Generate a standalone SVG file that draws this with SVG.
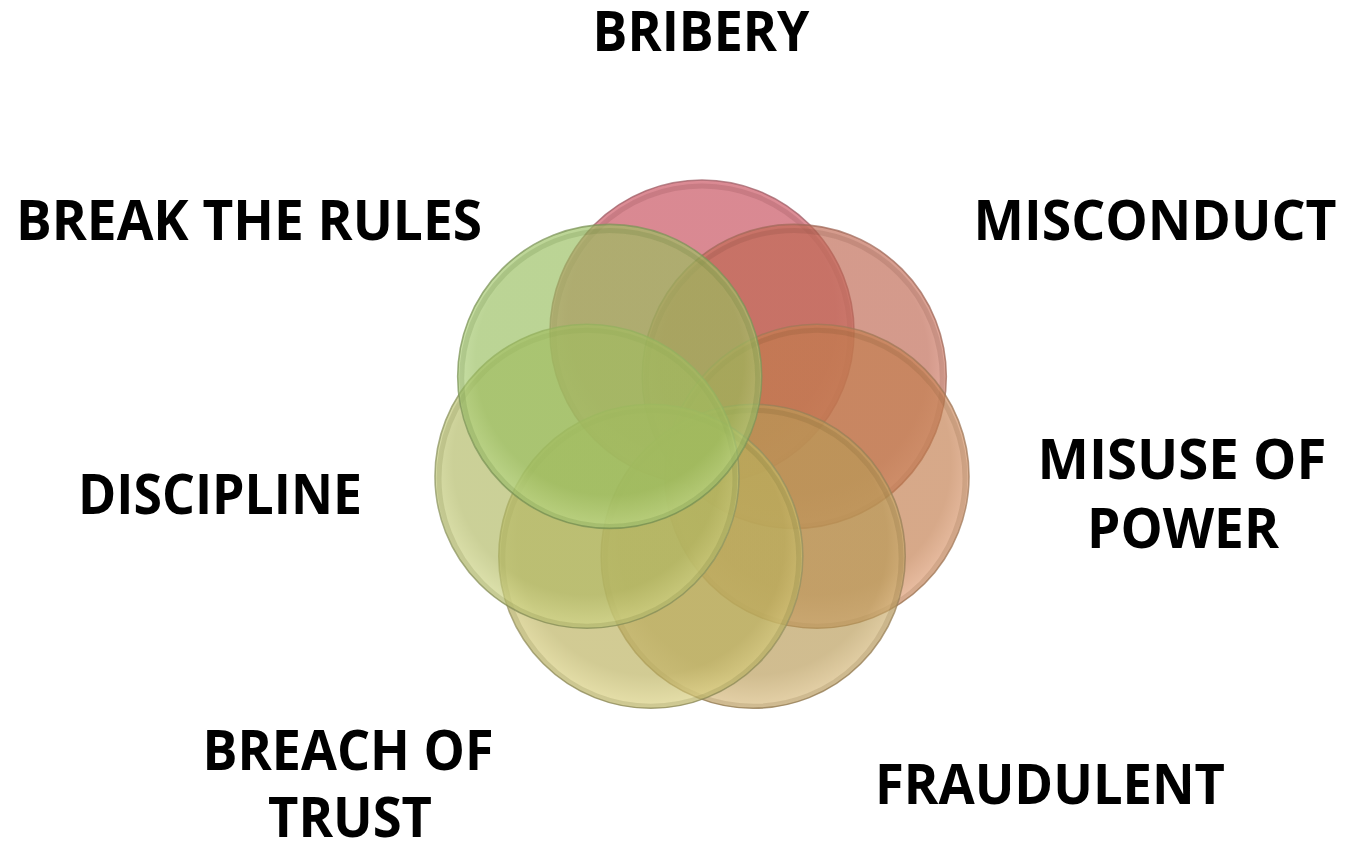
<svg xmlns="http://www.w3.org/2000/svg" width="1345" height="842" viewBox="0 0 1345 842">
<style>
.lbl{font-family:"Open Sans","Liberation Sans",sans-serif;font-weight:700;font-size:56px;fill:#000;text-anchor:middle}
.ring{fill-opacity:0.66;stroke-width:1.6;stroke-opacity:0.75}
.rim{fill:none;stroke-width:5;stroke-opacity:0.16}
</style>
<defs>
<radialGradient id="g1" cx="50%" cy="45%" r="55%"><stop offset="0" stop-color="#C64C5A"/><stop offset="0.8" stop-color="#C64C5A"/><stop offset="1" stop-color="#E87C84"/></radialGradient>
<radialGradient id="g2" cx="50%" cy="45%" r="55%"><stop offset="0" stop-color="#BE6650"/><stop offset="0.8" stop-color="#BE6650"/><stop offset="1" stop-color="#DE8C78"/></radialGradient>
<radialGradient id="g3" cx="50%" cy="45%" r="55%"><stop offset="0" stop-color="#C27C4C"/><stop offset="0.8" stop-color="#C27C4C"/><stop offset="1" stop-color="#E2A078"/></radialGradient>
<radialGradient id="g4" cx="50%" cy="45%" r="55%"><stop offset="0" stop-color="#B89A56"/><stop offset="0.8" stop-color="#B89A56"/><stop offset="1" stop-color="#D8BA7C"/></radialGradient>
<radialGradient id="g5" cx="50%" cy="45%" r="55%"><stop offset="0" stop-color="#BAB05C"/><stop offset="0.8" stop-color="#BAB05C"/><stop offset="1" stop-color="#DAD07E"/></radialGradient>
<radialGradient id="g6" cx="50%" cy="45%" r="55%"><stop offset="0" stop-color="#B0B862"/><stop offset="0.8" stop-color="#B0B862"/><stop offset="1" stop-color="#D0D686"/></radialGradient>
<radialGradient id="g7" cx="50%" cy="45%" r="55%"><stop offset="0" stop-color="#98BE5E"/><stop offset="0.8" stop-color="#98BE5E"/><stop offset="1" stop-color="#BADA88"/></radialGradient>
</defs>
<g id="node-bribery">
<circle class="ring" cx="702" cy="332" r="152" fill="url(#g1)" stroke="#A06068"/>
<circle class="rim" cx="702" cy="334" r="148" stroke="#703038"/>
<text class="lbl" x="701" y="51" textLength="217" lengthAdjust="spacingAndGlyphs">BRIBERY</text>
</g>
<g id="node-misconduct">
<circle class="ring" cx="794.3" cy="376.4" r="152" fill="url(#g2)" stroke="#A06858"/>
<circle class="rim" cx="794.3" cy="378.4" r="148" stroke="#704030"/>
<text class="lbl" x="1155" y="240" textLength="363" lengthAdjust="spacingAndGlyphs">MISCONDUCT</text>
</g>
<g id="node-misuse-of-power">
<circle class="ring" cx="817" cy="476.3" r="152" fill="url(#g3)" stroke="#A07858"/>
<circle class="rim" cx="817" cy="478.3" r="148" stroke="#704828"/>
<text class="lbl" x="1182" y="479" textLength="289" lengthAdjust="spacingAndGlyphs">MISUSE OF</text>
<text class="lbl" x="1183" y="548" textLength="192" lengthAdjust="spacingAndGlyphs">POWER</text>
</g>
<g id="node-fraudulent">
<circle class="ring" cx="753.2" cy="556.3" r="152" fill="url(#g4)" stroke="#988058"/>
<circle class="rim" cx="753.2" cy="558.3" r="148" stroke="#685028"/>
<text class="lbl" x="1050" y="804" textLength="350" lengthAdjust="spacingAndGlyphs">FRAUDULENT</text>
</g>
<g id="node-breach-of-trust">
<circle class="ring" cx="650.8" cy="556.3" r="152" fill="url(#g5)" stroke="#949060"/>
<circle class="rim" cx="650.8" cy="558.3" r="148" stroke="#606028"/>
<text class="lbl" x="348" y="770" textLength="291" lengthAdjust="spacingAndGlyphs">BREACH OF</text>
<text class="lbl" x="350" y="837" textLength="164" lengthAdjust="spacingAndGlyphs">TRUST</text>
</g>
<g id="node-discipline">
<circle class="ring" cx="587" cy="476.3" r="152" fill="url(#g6)" stroke="#8C9460"/>
<circle class="rim" cx="587" cy="478.3" r="148" stroke="#5C6428"/>
<text class="lbl" x="220" y="514" textLength="284" lengthAdjust="spacingAndGlyphs">DISCIPLINE</text>
</g>
<g id="node-break-the-rules">
<circle class="ring" cx="609.7" cy="376.4" r="152" fill="url(#g7)" stroke="#7C9458"/>
<circle class="rim" cx="609.7" cy="378.4" r="148" stroke="#4C6828"/>
<text class="lbl" x="249" y="240" textLength="466" lengthAdjust="spacingAndGlyphs">BREAK THE RULES</text>
</g>
<g id="connectors"></g>
</svg>
